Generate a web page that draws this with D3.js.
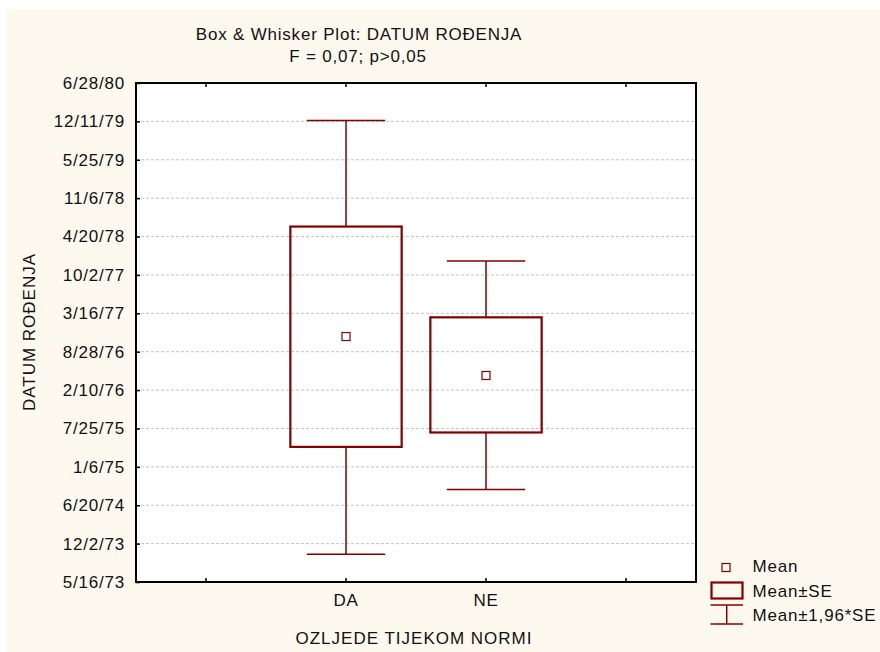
<!DOCTYPE html>
<html>
<head>
<meta charset="utf-8">
<script src="https://cdn.jsdelivr.net/npm/d3@7"></script>
<style>
  html, body { margin: 0; padding: 0; background: #ffffff; }
  svg { display: block; }
  text { font-family: "Liberation Sans", Arial, sans-serif; fill: #111; }
</style>
</head>
<body>
<svg id="chart" width="880" height="652"></svg>
<script>
// ---- data ----
const chartTitle = "Box & Whisker Plot: DATUM ROĐENJA";
const chartSubtitle = "F = 0,07; p>0,05";
const yAxisTitle = "DATUM ROĐENJA";
const xAxisTitle = "OZLJEDE TIJEKOM NORMI";
const xSlots = ["", "DA", "NE", " "];
const categories = ["DA", "NE"];
const means  = ["11/15/76", "4/26/76"];
const seLow  = ["4/20/75", "7/4/75"];
const seHigh = ["6/11/78", "2/23/77"];
const ciLow  = ["10/8/73", "9/10/74"];
const ciHigh = ["12/16/79", "12/14/77"];
const yTickLabels = ["5/16/73", "12/2/73", "6/20/74", "1/6/75", "7/25/75", "2/10/76",
  "8/28/76", "3/16/77", "10/2/77", "4/20/78", "11/6/78", "5/25/79", "12/11/79", "6/28/80"];
const legendLabels = ["Mean", "Mean±SE", "Mean±1,96*SE"];

// ---- setup ----
const parse = d3.utcParse("%m/%d/%y");
const red = "#800000";
const FS = 17, LS = "0.8px";
const svg = d3.select("#chart");
const L = 136, R = 696, T = 83, B = 582;

svg.append("rect").attr("x", 7).attr("y", 9).attr("width", 873).attr("height", 643)
  .attr("fill", "#fef9ee");
svg.append("rect").attr("x", L).attr("y", T).attr("width", R - L).attr("height", B - T)
  .attr("fill", "#ffffff");

const yTicks = yTickLabels.map(parse);
const y = d3.scaleUtc().domain([yTicks[0], yTicks[yTicks.length - 1]]).range([B, T]);
const x = d3.scaleBand().domain(xSlots).range([L, R]).padding(0);
const cx = d => x(d) + x.bandwidth() / 2;

// gridlines
svg.append("g").selectAll("line").data(yTicks.slice(1, -1)).join("line")
  .attr("x1", L).attr("x2", R)
  .attr("y1", d => y(d)).attr("y2", d => y(d))
  .attr("stroke", "#c4c4c4").attr("stroke-width", 1).attr("stroke-dasharray", "3,2");

// y axis
const labelMap = new Map(yTicks.map((d, i) => [+d, yTickLabels[i]]));
const yAxis = svg.append("g").attr("transform", `translate(${L},0)`)
  .call(d3.axisLeft(y).tickValues(yTicks).tickFormat(d => labelMap.get(+d))
    .tickSizeInner(-4).tickSizeOuter(0).tickPadding(11));
yAxis.select(".domain").remove();
yAxis.selectAll(".tick line").attr("stroke", "#000").attr("stroke-width", 1.5);
yAxis.selectAll(".tick text").attr("font-size", FS).attr("letter-spacing", LS)
  .attr("fill", "#111").style("font-family", "'Liberation Sans', Arial, sans-serif");

// x axis (bottom) and top ticks
const xAxis = svg.append("g").attr("transform", `translate(0,${B})`)
  .call(d3.axisBottom(x).tickSizeInner(-4).tickSizeOuter(0).tickPadding(12));
xAxis.select(".domain").remove();
xAxis.selectAll(".tick line").attr("stroke", "#000").attr("stroke-width", 1.5);
xAxis.selectAll(".tick text").attr("font-size", FS).attr("letter-spacing", LS)
  .attr("fill", "#111").style("font-family", "'Liberation Sans', Arial, sans-serif");
const xTop = svg.append("g").attr("transform", `translate(0,${T})`)
  .call(d3.axisTop(x).tickSizeInner(-4).tickSizeOuter(0).tickFormat(""));
xTop.select(".domain").remove();
xTop.selectAll(".tick line").attr("stroke", "#000").attr("stroke-width", 1.5);

// frame
svg.append("rect").attr("x", L).attr("y", T).attr("width", R - L).attr("height", B - T)
  .attr("fill", "none").attr("stroke", "#000").attr("stroke-width", 2);

// boxes & whiskers
const data = categories.map((c, i) => ({
  c, mean: parse(means[i]), seL: parse(seLow[i]), seH: parse(seHigh[i]),
  ciL: parse(ciLow[i]), ciH: parse(ciHigh[i])
}));
const boxW = x.bandwidth() * 0.795, capW = x.bandwidth() * 0.56;
const g = svg.append("g").selectAll("g").data(data).join("g");
g.append("line").attr("x1", d => cx(d.c)).attr("x2", d => cx(d.c))
  .attr("y1", d => y(d.ciH)).attr("y2", d => y(d.seH))
  .attr("stroke", red).attr("stroke-width", 1.5);
g.append("line").attr("x1", d => cx(d.c)).attr("x2", d => cx(d.c))
  .attr("y1", d => y(d.seL)).attr("y2", d => y(d.ciL))
  .attr("stroke", red).attr("stroke-width", 1.5);
g.append("line").attr("x1", d => cx(d.c) - capW / 2).attr("x2", d => cx(d.c) + capW / 2)
  .attr("y1", d => y(d.ciH)).attr("y2", d => y(d.ciH))
  .attr("stroke", red).attr("stroke-width", 1.5);
g.append("line").attr("x1", d => cx(d.c) - capW / 2).attr("x2", d => cx(d.c) + capW / 2)
  .attr("y1", d => y(d.ciL)).attr("y2", d => y(d.ciL))
  .attr("stroke", red).attr("stroke-width", 1.5);
g.append("rect").attr("x", d => cx(d.c) - boxW / 2).attr("width", boxW)
  .attr("y", d => y(d.seH)).attr("height", d => y(d.seL) - y(d.seH))
  .attr("fill", "none").attr("stroke", red).attr("stroke-width", 2.2);
g.append("rect").attr("x", d => cx(d.c) - 4).attr("y", d => y(d.mean) - 4)
  .attr("width", 8).attr("height", 8)
  .attr("fill", "#fff").attr("stroke", red).attr("stroke-width", 1.2);

// titles
svg.append("text").attr("x", 359).attr("y", 40).attr("text-anchor", "middle")
  .attr("font-size", FS).attr("letter-spacing", LS).text(chartTitle);
svg.append("text").attr("x", 358).attr("y", 62).attr("text-anchor", "middle")
  .attr("font-size", FS).attr("letter-spacing", LS).text(chartSubtitle);
svg.append("text").attr("transform", `translate(35,332) rotate(-90)`).attr("text-anchor", "middle")
  .attr("font-size", FS).attr("letter-spacing", "1px").text(yAxisTitle);
svg.append("text").attr("x", (L + R) / 2 - 2).attr("y", 644).attr("text-anchor", "middle")
  .attr("font-size", FS).attr("letter-spacing", "1px").text(xAxisTitle);

// legend
const lg = svg.append("g");
lg.append("rect").attr("x", 722).attr("y", 563.5).attr("width", 8).attr("height", 8)
  .attr("fill", "none").attr("stroke", red).attr("stroke-width", 1.2);
lg.append("rect").attr("x", 711.5).attr("y", 582.5).attr("width", 31).attr("height", 16)
  .attr("fill", "none").attr("stroke", red).attr("stroke-width", 2.2);
lg.append("line").attr("x1", 710.5).attr("x2", 743).attr("y1", 605).attr("y2", 605)
  .attr("stroke", red).attr("stroke-width", 1.5);
lg.append("line").attr("x1", 710.5).attr("x2", 743).attr("y1", 624).attr("y2", 624)
  .attr("stroke", red).attr("stroke-width", 1.5);
lg.append("line").attr("x1", 726.7).attr("x2", 726.7).attr("y1", 605).attr("y2", 624)
  .attr("stroke", red).attr("stroke-width", 1.5);
lg.selectAll("text.lt").data(legendLabels).join("text").attr("class", "lt")
  .attr("x", 752.5).attr("y", (d, i) => [572, 596.5, 620.5][i])
  .attr("font-size", FS).attr("letter-spacing", LS).text(d => d);
</script>
</body>
</html>
